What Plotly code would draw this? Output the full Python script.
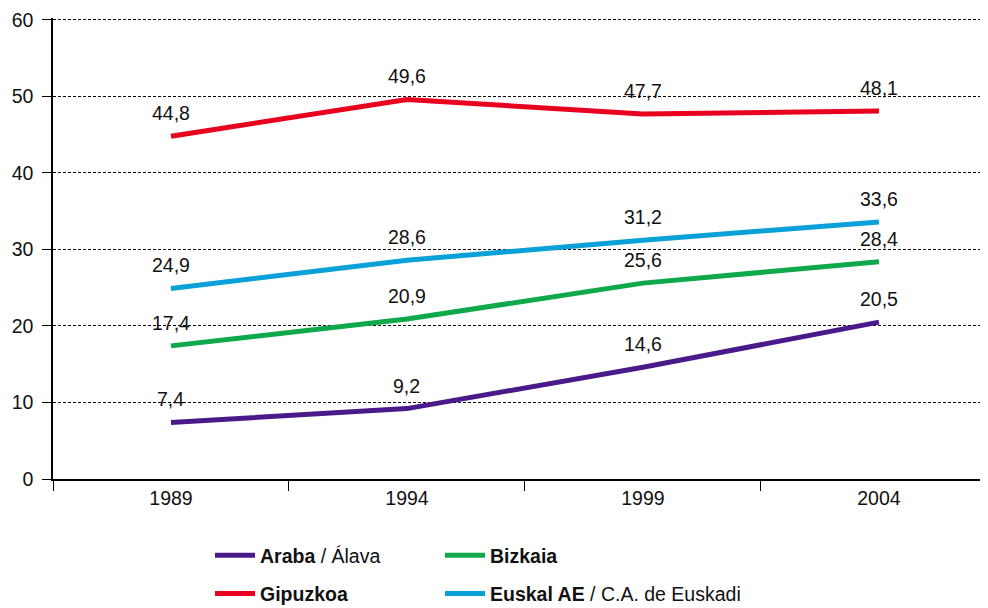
"""Line chart: four series across survey years, values labelled above each point."""

import plotly.graph_objects as go

# ── Data ──────────────────────────────────────────────────────────────────────
YEARS = ["1989", "1994", "1999", "2004"]

ARABA = [7.4, 9.2, 14.6, 20.5]
BIZKAIA = [17.4, 20.9, 25.6, 28.4]
GIPUZKOA = [44.8, 49.6, 47.7, 48.1]
EUSKAL = [24.9, 28.6, 31.2, 33.6]

NAMES = [
    "<b>Araba</b> / Álava",
    "<b>Bizkaia</b>",
    "<b>Gipuzkoa</b>",
    "<b>Euskal AE</b> / C.A. de Euskadi",
]

# ── Style ─────────────────────────────────────────────────────────────────────
_FONT = "Liberation Sans, Arial, sans-serif"
_FS = 19.5
_COLORS = ["#4b1a8a", "#0fa94b", "#e8001e", "#0aa0d8"]

# left legend column: Araba, Gipuzkoa / right column: Bizkaia, Euskal AE
series = [
    (NAMES[0], ARABA, _COLORS[0], "legend"),
    (NAMES[1], BIZKAIA, _COLORS[1], "legend2"),
    (NAMES[2], GIPUZKOA, _COLORS[2], "legend"),
    (NAMES[3], EUSKAL, _COLORS[3], "legend2"),
]

fig = go.Figure()
for k, (name, vals, color, leg) in enumerate(series):
    fig.add_trace(go.Scatter(
        x=YEARS, y=vals, name=name,
        mode="lines",
        line=dict(color=color, width=5),
        legend=leg, legendgroup=f"g{k}",
    ))

# value labels above each point (category axis -> annotation x is the index)
for name, vals, color, leg in series:
    for i, v in enumerate(vals):
        fig.add_annotation(
            x=i, y=v, text=f"{v:.1f}".replace(".", ","),
            showarrow=False, yshift=23,
            font=dict(size=_FS, color="#111111", family=_FONT),
        )

# page body adds an 8px offset; the overflow on the right/bottom is clipped
_W, _H = 988, 608
_PLOT_W, _PLOT_H = 943, 461

_LEG = dict(
    orientation="v",
    tracegroupgap=10,
    font=dict(size=_FS, color="#111111", family=_FONT),
    bgcolor="rgba(0,0,0,0)",
    xanchor="left", yanchor="top",
    itemwidth=40,
    y=(471 - 528) / _PLOT_H,
)

fig.update_layout(
    width=_W, height=_H,
    paper_bgcolor="white", plot_bgcolor="white",
    margin=dict(t=10, b=137, l=45, r=0, autoexpand=False),
    font=dict(family=_FONT, size=_FS, color="#111111"),
    xaxis=dict(
        type="category",
        range=[-0.5, 3.496],
        tickson="boundaries",
        ticks="outside", ticklen=10, tickcolor="black", tickwidth=1,
        showline=True, linecolor="black", linewidth=1.5,
        showgrid=False, zeroline=False,
        ticklabelstandoff=1,
        tickfont=dict(size=_FS),
    ),
    yaxis=dict(
        range=[0, 60.25], tickvals=[0, 10, 20, 30, 40, 50, 60],
        ticks="outside", ticklen=9, tickcolor="black", tickwidth=1,
        showline=True, linecolor="black", linewidth=1.5,
        showgrid=True, gridcolor="black", gridwidth=1, griddash="3px,2px",
        zeroline=False,
        ticklabelstandoff=5, ticklabeloverflow="allow",
        tickfont=dict(size=_FS),
    ),
    legend=dict(**_LEG, x=(202 - 45) / _PLOT_W),
    legend2=dict(**_LEG, x=(432 - 45) / _PLOT_W),
)

fig.write_html("out.html")
